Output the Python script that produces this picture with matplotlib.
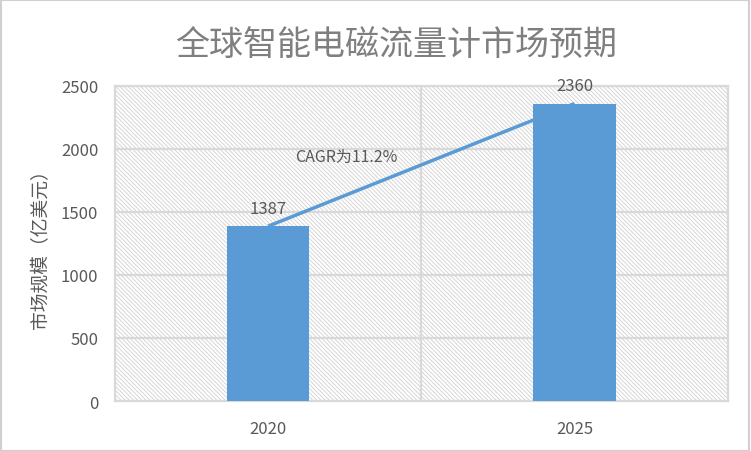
import matplotlib
matplotlib.use('Agg')
import matplotlib.pyplot as plt
from matplotlib.patches import Rectangle

# Data
years = ['2020', '2025']
market_size = [1387, 2360]
y_ticks = [0, 500, 1000, 1500, 2000, 2500]
title = '全球智能电磁流量计市场预期'
y_label = '市场规模（亿美元）'
cagr_label = 'CAGR为11.2%'

plt.rcParams['font.family'] = ['Noto Sans CJK SC', 'DejaVu Sans']
plt.rcParams['hatch.linewidth'] = 0.7

blue = '#5b9bd5'
text_grey = '#595959'
line_grey = '#d9d9d9'
hatch_grey = '#d6d6d6'

fig = plt.figure(figsize=(7.51, 4.52), dpi=100)
ax = fig.add_axes([0.153, 0.1106, 0.816, 0.697])

x = list(range(len(years)))

# hatched plot background
ax.add_patch(Rectangle((0, 0), 1, 1, transform=ax.transAxes, fill=False,
                       hatch='\\' * 8, edgecolor=hatch_grey, linewidth=0, zorder=0))

# grid
for t in y_ticks[1:]:
    ax.axhline(t, color=line_grey, linewidth=1.6, zorder=1)
ax.axvline(0.5, color=line_grey, linewidth=1.6, zorder=1)

# growth line behind the bars
ax.plot(x, market_size, color=blue, linewidth=2.5, zorder=2, solid_capstyle='butt')
ax.bar(x, market_size, width=0.27, color=blue, zorder=3)

for xi, v in zip(x, market_size):
    ax.annotate(str(v), (xi, v), xytext=(0, 13), textcoords='offset points',
                ha='center', va='center', fontsize=12, color=text_grey, zorder=4)

ax.text(0.254, 1944, cagr_label, ha='center', va='center', fontsize=11.5,
        color=text_grey, zorder=4)

ax.set_xlim(-0.5, 1.5)
ax.set_ylim(0, 2500)
ax.set_xticks(x)
ax.set_xticklabels(years)
ax.set_yticks(y_ticks)
ax.tick_params(length=0, labelsize=12, labelcolor=text_grey)
ax.tick_params(axis='x', pad=14)
ax.tick_params(axis='y', pad=12)
ax.set_ylabel(y_label, fontsize=13.5, color=text_grey, labelpad=7)

for s in ax.spines.values():
    s.set_color(line_grey)
    s.set_linewidth(1.6)

fig.text(0.527, 0.90, title, ha='center', va='center', fontsize=24.5, color='#7f7f7f')

# outer frame
fig.patches.append(Rectangle((0.001, 0.001), 0.997, 0.996, transform=fig.transFigure,
                             fill=False, edgecolor='#d0d0d0', linewidth=1.5))

fig.savefig('out.png', dpi=100)
